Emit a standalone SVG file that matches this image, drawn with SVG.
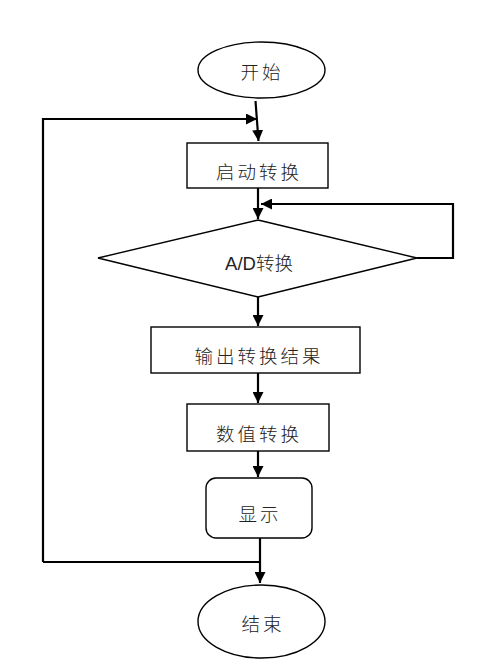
<svg xmlns="http://www.w3.org/2000/svg" width="490" height="668" viewBox="0 0 490 668">
<style>
.s{fill:#fff;stroke:#000;stroke-width:1.4}
.t{font-family:"Noto Sans CJK SC","Noto Sans",sans-serif;font-size:18.5px;font-weight:300;fill:#222;text-anchor:middle;letter-spacing:3px}
.ad{font-family:"Liberation Sans","Noto Sans CJK SC",sans-serif;font-size:18.5px;font-weight:300;fill:#222;text-anchor:middle}
.c{fill:none;stroke:#000;stroke-width:2.2}
</style>
<defs>
<marker id="a" viewBox="0 0 10 10" refX="10" refY="5" markerWidth="5" markerHeight="5" orient="auto" markerUnits="strokeWidth">
<path d="M0,0 L10,5 L0,10 z" fill="#000"/>
</marker>
</defs>
<rect width="490" height="668" fill="#fff"/>
<g id="connectors">
<path class="c" d="M255.5,101 L258.5,141" marker-end="url(#a)"/>
<path class="c" d="M43,562 L43,119 L257,119" marker-end="url(#a)"/>
<path class="c" d="M258,188 L258,219" marker-end="url(#a)"/>
<path class="c" d="M417,258 L453,258 L453,204 L261,204" marker-end="url(#a)"/>
<path class="c" d="M258,297 L258,326" marker-end="url(#a)"/>
<path class="c" d="M258,373 L258,403" marker-end="url(#a)"/>
<path class="c" d="M258,451 L258,477" marker-end="url(#a)"/>
<path class="c" d="M260,538 L260,583" marker-end="url(#a)"/>
<path class="c" d="M43,562 L260,562"/>
</g>
<g id="start">
<ellipse class="s" cx="261.5" cy="70" rx="63.5" ry="28"/>
<text class="t" x="262" y="79">开始</text>
</g>
<g id="startConv">
<rect class="s" x="187" y="143" width="141" height="45"/>
<text class="t" x="259" y="179">启动转换</text>
</g>
<g id="adConv">
<polygon class="s" points="258,220 417,258 258,297 98,258"/>
<text class="ad" x="259" y="270">A/D转换</text>
</g>
<g id="output">
<rect class="s" x="151" y="327" width="209" height="46"/>
<text class="t" x="259" y="363">输出转换结果</text>
</g>
<g id="numConv">
<rect class="s" x="187" y="404" width="142" height="47"/>
<text class="t" x="259" y="441">数值转换</text>
</g>
<g id="display">
<rect class="s" x="206" y="478" width="106" height="60" rx="10"/>
<text class="t" x="260" y="521">显示</text>
</g>
<g id="end">
<ellipse class="s" cx="261.5" cy="621.5" rx="63.5" ry="36.5"/>
<text class="t" x="263" y="631">结束</text>
</g>
</svg>
